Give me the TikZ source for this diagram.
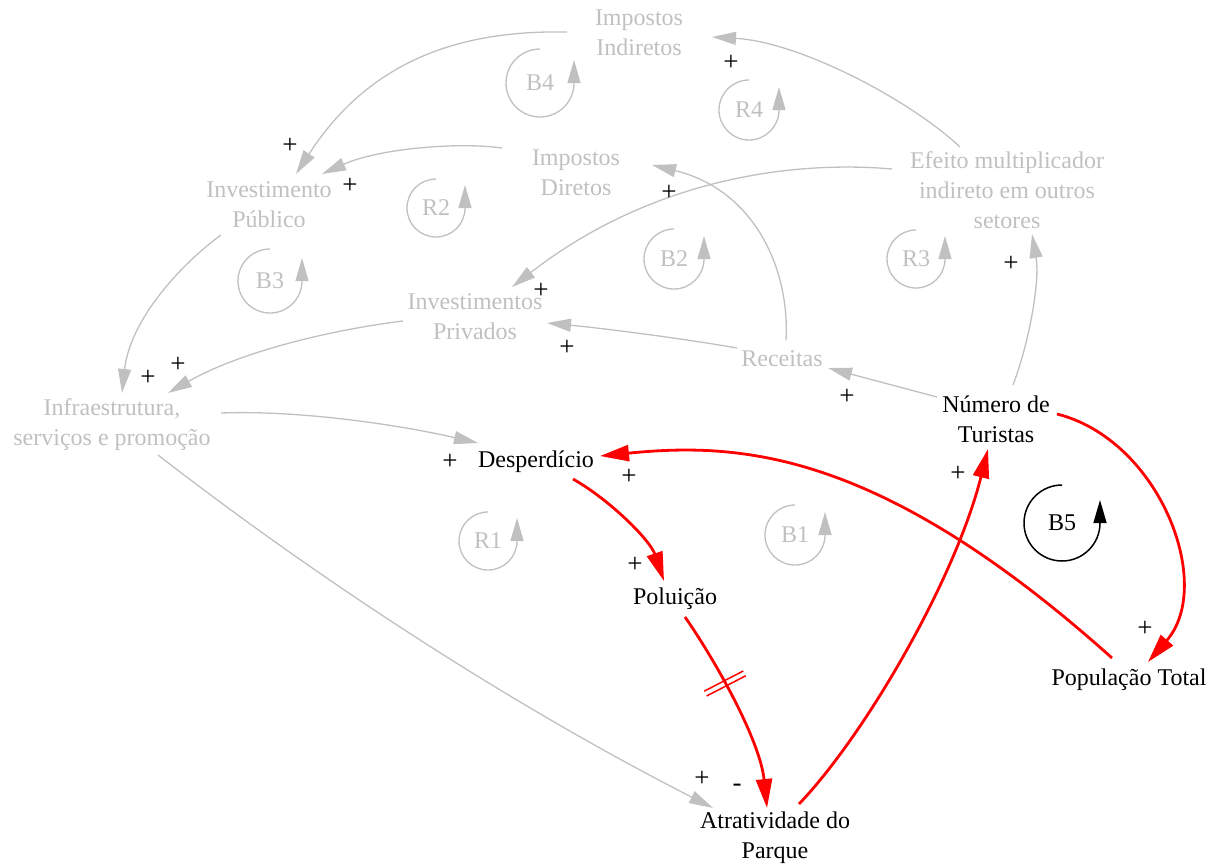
\documentclass[tikz,border=0pt]{standalone}
\usepackage{fontspec}
\setmainfont{Liberation Serif}
\usetikzlibrary{arrows.meta,decorations.markings}
\definecolor{faded}{RGB}{192,192,192}
\definecolor{linkred}{RGB}{255,0,0}
\tikzset{
  every node/.style={font=\fontsize{24}{30}\selectfont, inner sep=0pt, align=center},
  var/.style={text=black},
  fvar/.style={text=faded},
  sign/.style={text=black, font=\fontsize{27}{30}\selectfont},
  glink/.style={draw=faded, line width=1.3pt, -{Triangle[length=24pt,width=13pt]}},
  rlink/.style={draw=linkred, line width=2.8pt, -{Triangle[length=29pt,width=16pt]}},
  delaymark/.style={postaction={decorate}, decoration={markings, mark=at position #1 with {
      \draw[linkred, line width=1.5pt, -] (-2.7,-22) -- (-2.7,22) (2.7,-22) -- (2.7,22);}}},
  pics/fbloop/.style n args={4}{code={
      \node[text=#3] (-lbl) {#1};
      \draw[draw=#3, line width=#4, -{Triangle[length=23pt,width=13pt]}]
        (0,-#2) arc[start angle=270, end angle=0, radius=#2] -- ++(0,-23);
  }},
}
\begin{document}
\begin{tikzpicture}[x=1pt,y=-1pt]
\useasboundingbox (0,0) rectangle (1223,865);

% variables
\node[fvar] (indir)    at (639,33)   {Impostos\\Indiretos};
\node[fvar] (invpub)   at (269,205)  {Investimento\\Público};
\node[fvar] (dir)      at (576,173)  {Impostos\\Diretos};
\node[fvar] (efeito)   at (1007,190) {Efeito multiplicador\\indireto em outros\\setores};
\node[fvar] (invpriv)  at (475,317)  {Investimentos\\Privados};
\node[fvar] (receitas) at (782,359)  {Receitas};
\node[fvar] (infra)    at (112,425)  {Infraestrutura,\\serviços e promoção};
\node[var]  (turistas) at (996,419)  {Número de\\Turistas};
\node[var]  (desp)     at (536,462)  {Desperdício};
\node[var]  (polu)     at (675,599)  {Poluição};
\node[var]  (atrat)    at (775,838)  {Atratividade do\\Parque};
\node[var]  (pop)      at (1129,680) {População Total};

% grey causal links
\draw[glink] ([shift={(-47,-43)}]efeito.center) .. controls +(-50,-47) and +(88,5) .. ([shift={(73,4)}]indir.center);
\draw[glink] ([shift={(-72,-1)}]indir.center) .. controls +(-107,-2) and +(74,-114) .. ([shift={(27,-31)}]invpub.center);
\draw[glink] ([shift={(-74,-25)}]dir.center) .. controls +(-42,-6) and +(58,-26) .. ([shift={(53,-31)}]invpub.center);
\draw[glink] ([shift={(-48,30)}]invpub.center) .. controls +(-41,30) and +(8,-73) .. ([shift={(10,-32)}]infra.center);
\draw[glink] ([shift={(-72,4)}]invpriv.center) .. controls +(-73,9) and +(72,-41) .. ([shift={(56,-32)}]infra.center);
\draw[glink] ([shift={(-115,-21)}]efeito.center) .. controls +(-102,-9) and +(138,-107) .. ([shift={(37,-30)}]invpriv.center);
\draw[glink] ([shift={(4,-19)}]receitas.center) .. controls +(4,-70) and +(103,25) .. ([shift={(76,-8)}]dir.center);
\draw[glink] ([shift={(-45,-11)}]receitas.center) .. controls +(-57,-10) and +(53,5) .. ([shift={(72,6)}]invpriv.center);
\draw[glink] ([shift={(-59,-22)}]turistas.center) -- ([shift={(46,9)}]receitas.center);
\draw[glink] ([shift={(17,-34)}]turistas.center) .. controls +(17,-45) and +(8,46) .. ([shift={(25,44)}]efeito.center);
\draw[glink] ([shift={(109,-12)}]infra.center) .. controls +(79,-3) and +(-78,-18) .. ([shift={(-58,-19)}]desp.center);
\draw[glink] ([shift={(46,30)}]infra.center) .. controls +(177,137) and +(-188,-96) .. ([shift={(-62,-30)}]atrat.center);

% red causal links
\draw[rlink] ([shift={(37,17)}]desp.center) .. controls +(37,21) and +(-14,-41) .. ([shift={(-11,-18)}]polu.center);
\draw[rlink, delaymark=0.37] ([shift={(10,18)}]polu.center) .. controls +(30,43) and +(-7,-68) .. ([shift={(-8,-30)}]atrat.center);
\draw[rlink] ([shift={(24,-34)}]atrat.center) .. controls +(66,-69) and +(-33,131) .. ([shift={(-8,30)}]turistas.center);
\draw[rlink] ([shift={(61,-5)}]turistas.center) .. controls +(103,26) and +(67,-77) .. ([shift={(19,-18)}]pop.center);
\draw[rlink] ([shift={(-17,-22)}]pop.center) .. controls +(-232,-208) and +(140,-14) .. ([shift={(64,-6)}]desp.center);

% link polarities
\node[sign] (s1)  at (731,63)   {+};
\node[sign] (s2)  at (290,146)  {+};
\node[sign] (s3)  at (350,186)  {+};
\node[sign] (s4)  at (148,378)  {+};
\node[sign] (s5)  at (178,365)  {+};
\node[sign] (s6)  at (669,193)  {+};
\node[sign] (s7)  at (541,291)  {+};
\node[sign] (s8)  at (567,348)  {+};
\node[sign] (s9)  at (847,397)  {+};
\node[sign] (s10) at (1011,264) {+};
\node[sign] (s11) at (450,462)  {+};
\node[sign] (s12) at (702,779)  {+};
\node[sign] (s13) at (629,477)  {+};
\node[sign] (s14) at (635,565)  {+};
\node[sign] (s15) at (737,788)  {-};
\node[sign] (s16) at (958,474)  {+};
\node[sign] (s17) at (1145,629) {+};

% loop markers
\pic (b4) at (540,83)  {fbloop={B4}{34}{faded}{1.3pt}};
\pic (r4) at (749,110) {fbloop={R4}{30}{faded}{1.3pt}};
\pic (r2) at (436,208) {fbloop={R2}{29}{faded}{1.3pt}};
\pic (b3) at (270,281) {fbloop={B3}{32}{faded}{1.3pt}};
\pic (b2) at (674,259) {fbloop={B2}{30}{faded}{1.3pt}};
\pic (r3) at (916,259) {fbloop={R3}{29}{faded}{1.3pt}};
\pic (r1) at (488,541) {fbloop={R1}{29}{faded}{1.3pt}};
\pic (b1) at (795,535) {fbloop={B1}{30}{faded}{1.3pt}};
\pic (b5) at (1062,523) {fbloop={B5}{38}{black}{1.5pt}};
\end{tikzpicture}
\end{document}
